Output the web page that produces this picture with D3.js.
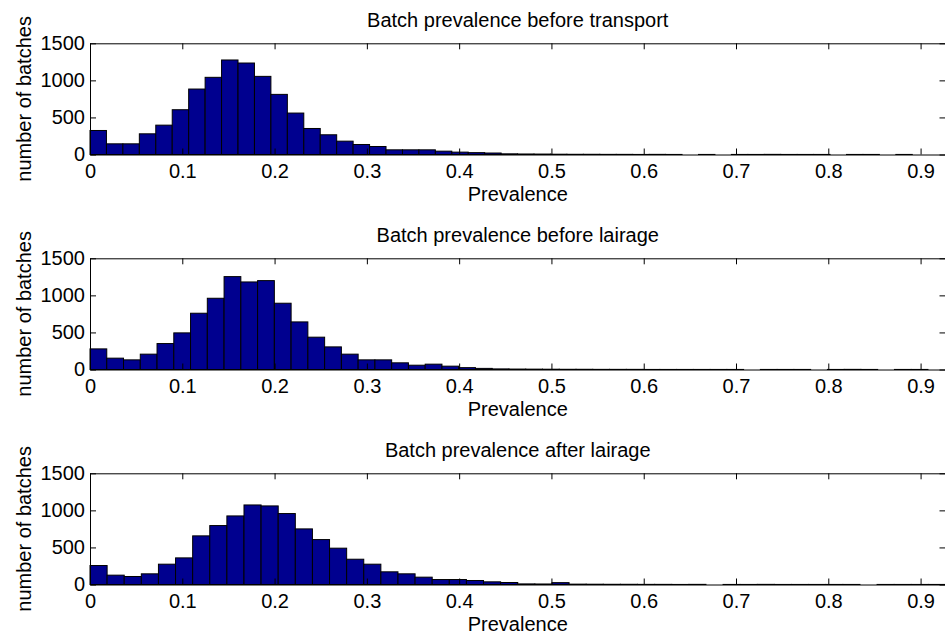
<!DOCTYPE html>
<html>
<head>
<meta charset="utf-8">
<script src="https://cdn.jsdelivr.net/npm/d3@7"></script>
<style>
  html, body { margin: 0; padding: 0; background: #fff; }
  svg { display: block; }
  text { font-family: "Liberation Sans", Arial, sans-serif; fill: #000; }
</style>
</head>
<body>
<svg id="chart" width="945" height="637"></svg>
<script>
// ---------------- data ----------------
const panelTitles = [
  "Batch prevalence before transport",
  "Batch prevalence before lairage",
  "Batch prevalence after lairage"
];
const xLabel = "Prevalence";
const yLabel = "number of batches";
const xTicks = [0, 0.1, 0.2, 0.3, 0.4, 0.5, 0.6, 0.7, 0.8, 0.9];
const yTicks = [0, 500, 1000, 1500];
const xDomainMax = 0.927;
const yDomainMax = 1500;
// upper end of the 50 equal histogram bins (starting at 0) for each panel
const binRangeMax = [0.891, 0.908, 0.927];

const countsBeforeTransport = [
  324, 144, 144, 279, 396, 604, 883, 1041, 1275, 1234,
  1054, 811, 559, 351, 266, 180, 135, 108, 63, 63,
  63, 45, 32, 25, 20, 9, 7, 6, 4, 3,
  3, 2, 2, 1, 2, 1, 0, 1, 0, 1,
  1, 2, 1, 1, 1, 0, 1, 1, 0, 1
];
const countsBeforeLairage = [
  278, 153, 130, 207, 350, 494, 759, 961, 1253, 1181,
  1199, 894, 642, 436, 305, 207, 130, 130, 90, 58,
  72, 45, 25, 15, 8, 6, 5, 4, 3, 3,
  2, 2, 2, 1, 1, 1, 1, 1, 1, 0,
  1, 1, 1, 0, 1, 2, 1, 0, 1, 1
];
const countsAfterLairage = [
  256, 126, 108, 144, 274, 359, 656, 795, 925, 1073,
  1060, 957, 750, 606, 490, 341, 274, 171, 144, 99,
  67, 67, 54, 36, 27, 8, 7, 25, 5, 4,
  3, 3, 2, 2, 1, 2, 0, 1, 1, 2,
  1, 1, 1, 1, 1, 0, 1, 1, 1, 1
];
const panelCounts = [countsBeforeTransport, countsBeforeLairage, countsAfterLairage];

// ---------------- layout ----------------
const barFill = "#00008f";
const left = 90, right = 945.5;
const panelTops = [43.3, 258.3, 473.3];
const panelHeight = 111.2;
const fontSize = 20;

const svg = d3.select("#chart");

const x = d3.scaleLinear().domain([0, xDomainMax]).range([left, right]);
const fmtX = d => d === 0 ? "0" : d3.format(".1f")(d);

panelCounts.forEach((counts, p) => {
  const top = panelTops[p];
  const bottom = top + panelHeight;
  const y = d3.scaleLinear().domain([0, yDomainMax]).range([bottom, top]);
  const nBins = counts.length;
  const binW = binRangeMax[p] / nBins;
  const bins = counts.map((c, i) => ({ x0: i * binW, x1: (i + 1) * binW, c }));

  const g = svg.append("g");

  // bars
  g.append("g").selectAll("rect")
    .data(bins.filter(b => b.c > 0))
    .join("rect")
    .attr("x", b => x(b.x0))
    .attr("width", b => x(b.x1) - x(b.x0))
    .attr("y", b => y(b.c))
    .attr("height", b => y(0) - y(b.c))
    .attr("fill", barFill)
    .attr("stroke", "#000")
    .attr("stroke-width", 1);

  // axes (ticks pointing inward, MATLAB style)
  const axB = d3.axisBottom(x).tickValues(xTicks).tickFormat(fmtX)
    .tickSizeInner(-6).tickSizeOuter(0).tickPadding(9);
  const axT = d3.axisTop(x).tickValues(xTicks).tickFormat("")
    .tickSizeInner(-6).tickSizeOuter(0);
  const axL = d3.axisLeft(y).tickValues(yTicks).tickFormat(d3.format("d"))
    .tickSizeInner(-6).tickSizeOuter(0).tickPadding(5);
  const axR = d3.axisRight(y).tickValues(yTicks).tickFormat("")
    .tickSizeInner(-6).tickSizeOuter(0);

  const style = sel => {
    sel.selectAll("path.domain").attr("stroke", "#000").attr("stroke-width", 1);
    sel.selectAll(".tick line").attr("stroke", "#000").attr("stroke-width", 1);
    sel.selectAll(".tick text")
      .style("font-family", '"Liberation Sans", Arial, sans-serif')
      .style("font-size", fontSize + "px")
      .attr("fill", "#000");
    sel.attr("font-family", null).attr("font-size", null);
  };

  g.append("g").attr("transform", `translate(0,${bottom})`).call(axB).call(style);
  g.append("g").attr("transform", `translate(0,${top})`).call(axT).call(style);
  g.append("g").attr("transform", `translate(${left},0)`).call(axL).call(style);
  g.append("g").attr("transform", `translate(${right},0)`).call(axR).call(style);

  // title
  g.append("text")
    .attr("x", (left + right) / 2)
    .attr("y", top - 16)
    .attr("text-anchor", "middle")
    .style("font-size", fontSize + "px")
    .text(panelTitles[p]);

  // x label
  g.append("text")
    .attr("x", (left + right) / 2)
    .attr("y", bottom + 46)
    .attr("text-anchor", "middle")
    .style("font-size", fontSize + "px")
    .text(xLabel);

  // y label
  g.append("text")
    .attr("transform", `translate(31,${(top + bottom) / 2}) rotate(-90)`)
    .attr("text-anchor", "middle")
    .style("font-size", fontSize + "px")
    .text(yLabel);
});
</script>
</body>
</html>
